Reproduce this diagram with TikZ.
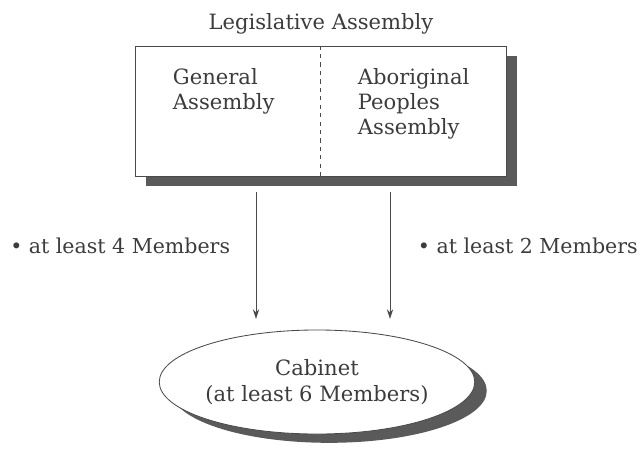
\documentclass[tikz,border=0pt]{standalone}
\usepackage{fontspec}
\setmainfont{DejaVu Serif}
\usepackage{xcolor}
\usetikzlibrary{shapes.geometric, shadows, arrows.meta}
\definecolor{inkColor}{HTML}{3C3C3C}
\definecolor{lineColor}{HTML}{4A4A4A}
\definecolor{shadowColor}{HTML}{5A5A5A}

\begin{document}
\begin{tikzpicture}[x=0.025cm, y=-0.025cm,
    every node/.style={text=inkColor, font=\fontsize{15}{18}\selectfont},
    assembly/.style={draw=lineColor, line width=0.6pt, fill=white,
        minimum width=9.275cm, minimum height=3.25cm, inner sep=0pt,
        drop shadow={shadow xshift=0.275cm, shadow yshift=-0.25cm,
            fill=shadowColor, opacity=1}},
    cabinet/.style={ellipse, draw=lineColor, line width=0.6pt, fill=white,
        minimum width=7.75cm, minimum height=2.6cm, inner sep=0pt,
        align=center,
        drop shadow={shadow xshift=0.3cm, shadow yshift=-0.22cm,
            fill=shadowColor, opacity=1}},
    feed/.style={draw=lineColor, line width=0.7pt,
        -{Stealth[length=7pt, width=4.5pt]}},
    quota/.style={inner sep=0pt, font=\fontsize{14.6}{18}\selectfont}]
    \useasboundingbox (0,0) rectangle (641,450);
    % chambers
    \node (title) at (321,24) {Legislative Assembly};
    \node[assembly] (la) at (320.5,111) {};
    \draw[lineColor, dashed, line width=0.5pt] (la.north) -- (la.south);
    \node[anchor=north west, align=left] (general) at (168,63)
        {General\\Assembly};
    \node[anchor=north west, align=left] (aboriginal) at (353,63)
        {Aboriginal\\Peoples\\Assembly};
    % cabinet
    \node[cabinet] (cab) at (317,382) {Cabinet\\(at least 6 Members)};
    \coordinate (ga out) at (256,192);
    \coordinate (ap out) at (390,192);
    \coordinate (ga in) at (256,319);
    \coordinate (ap in) at (390,319);
    \draw[feed] (ga out) -- (ga in);
    \draw[feed] (ap out) -- (ap in);
    \node[quota, anchor=west] (four) at (10,246) {• at least 4 Members};
    \node[quota, anchor=east] (two) at (638,246) {• at least 2 Members};
\end{tikzpicture}
\end{document}
